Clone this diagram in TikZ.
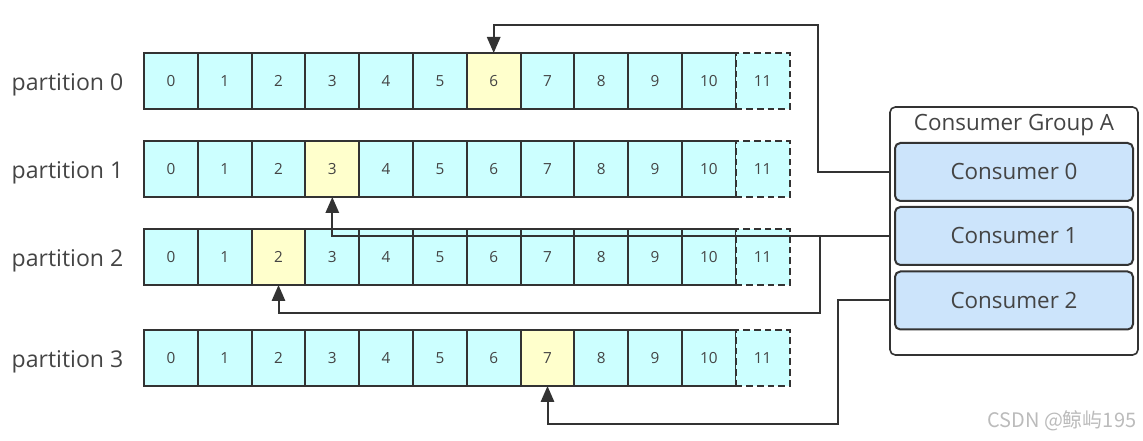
\documentclass[tikz,border=0pt]{standalone}
\usepackage{fontspec}
\setmainfont{Open Sans}
\newfontfamily\cjk{Noto Sans CJK SC}
\usetikzlibrary{arrows.meta}
\definecolor{cellc}{HTML}{CCFFFF}
\definecolor{celly}{HTML}{FFFFCC}
\definecolor{consb}{HTML}{CCE4FB}
\definecolor{edge}{HTML}{333333}
\definecolor{txt}{HTML}{444444}
\definecolor{wm}{HTML}{BBBBBB}
\begin{document}
\begin{tikzpicture}[x=0.75pt,y=-0.75pt,
  cell/.style={draw=edge,fill=cellc,line width=1.5pt,minimum width=40.35pt,minimum height=42pt,inner sep=0pt,outer sep=0pt,text=txt,font=\fontsize{11.5}{13}\selectfont},
  hit/.style={fill=celly},
  lastcell/.style={dashed,dash pattern=on 5pt off 3pt},
  plabel/.style={anchor=base east,text=txt,font=\fontsize{17.3}{20}\selectfont},
  cons/.style={draw=edge,fill=consb,rounded corners=4pt,line width=1.5pt,minimum width=178.5pt,minimum height=43.5pt,inner sep=0pt},
  ctext/.style={anchor=base,text=txt,font=\fontsize{16.8}{19}\selectfont},
  group/.style={draw=edge,fill=white,rounded corners=4pt,line width=1.2pt},
  conn/.style={draw=edge,line width=1.5pt},
  arr/.style={conn,-{Triangle[length=12pt,width=10pt]}}
]
\useasboundingbox (0,0) rectangle (1143,441);
% rows
\foreach \r/\y/\h in {0/81/6,1/169/3,2/257/2,3/358/7}{
  \node[plabel] (pl\r) at (128,\y+10) {partition \r};
  \foreach \i in {0,...,10}{
    \ifnum\i=\h
      \node[cell,hit] (p\r c\i) at ({170.9+53.8*\i},\y) {\i};
    \else
      \node[cell] (p\r c\i) at ({170.9+53.8*\i},\y) {\i};
    \fi
  }
  \node[cell,lastcell] (p\r c11) at ({170.9+53.8*11},\y) {11};
}
% consumer group
\node[group,minimum width=186pt,minimum height=186pt,inner sep=0pt] (grp) at (1014,231) {};
\node[anchor=base,text=txt,font=\fontsize{16.8}{19}\selectfont] (gtitle) at (1014,131) {Consumer Group A};
\node[cons] (cons0) at (1014,172) {};
\node[cons] (cons1) at (1014,236) {};
\node[cons] (cons2) at (1014,300.5) {};
\node[ctext] (t0) at (1014,180) {Consumer 0};
\node[ctext] (t1) at (1014,244) {Consumer 1};
\node[ctext] (t2) at (1014,308.5) {Consumer 2};
% connectors
\coordinate (k0) at (818,25);
\draw[arr] (grp.west |- cons0.west) -| (k0) -| (p0c6.north);
\draw[arr] (grp.west |- cons1.west) -| (p1c3.south);
\coordinate (k1) at (820,313);
\draw[arr] (k1 |- cons1.west) -- (k1) -| (p2c2.south);
\coordinate (k2) at (838,424);
\draw[arr] (grp.west |- cons2.west) -| (k2) -| (p3c7.south);
% watermark
\node[anchor=base east,text=wm,font=\cjk\fontsize{15}{18}\selectfont] (wm) at (1141,428) {CSDN @鲸屿195};
\end{tikzpicture}
\end{document}
